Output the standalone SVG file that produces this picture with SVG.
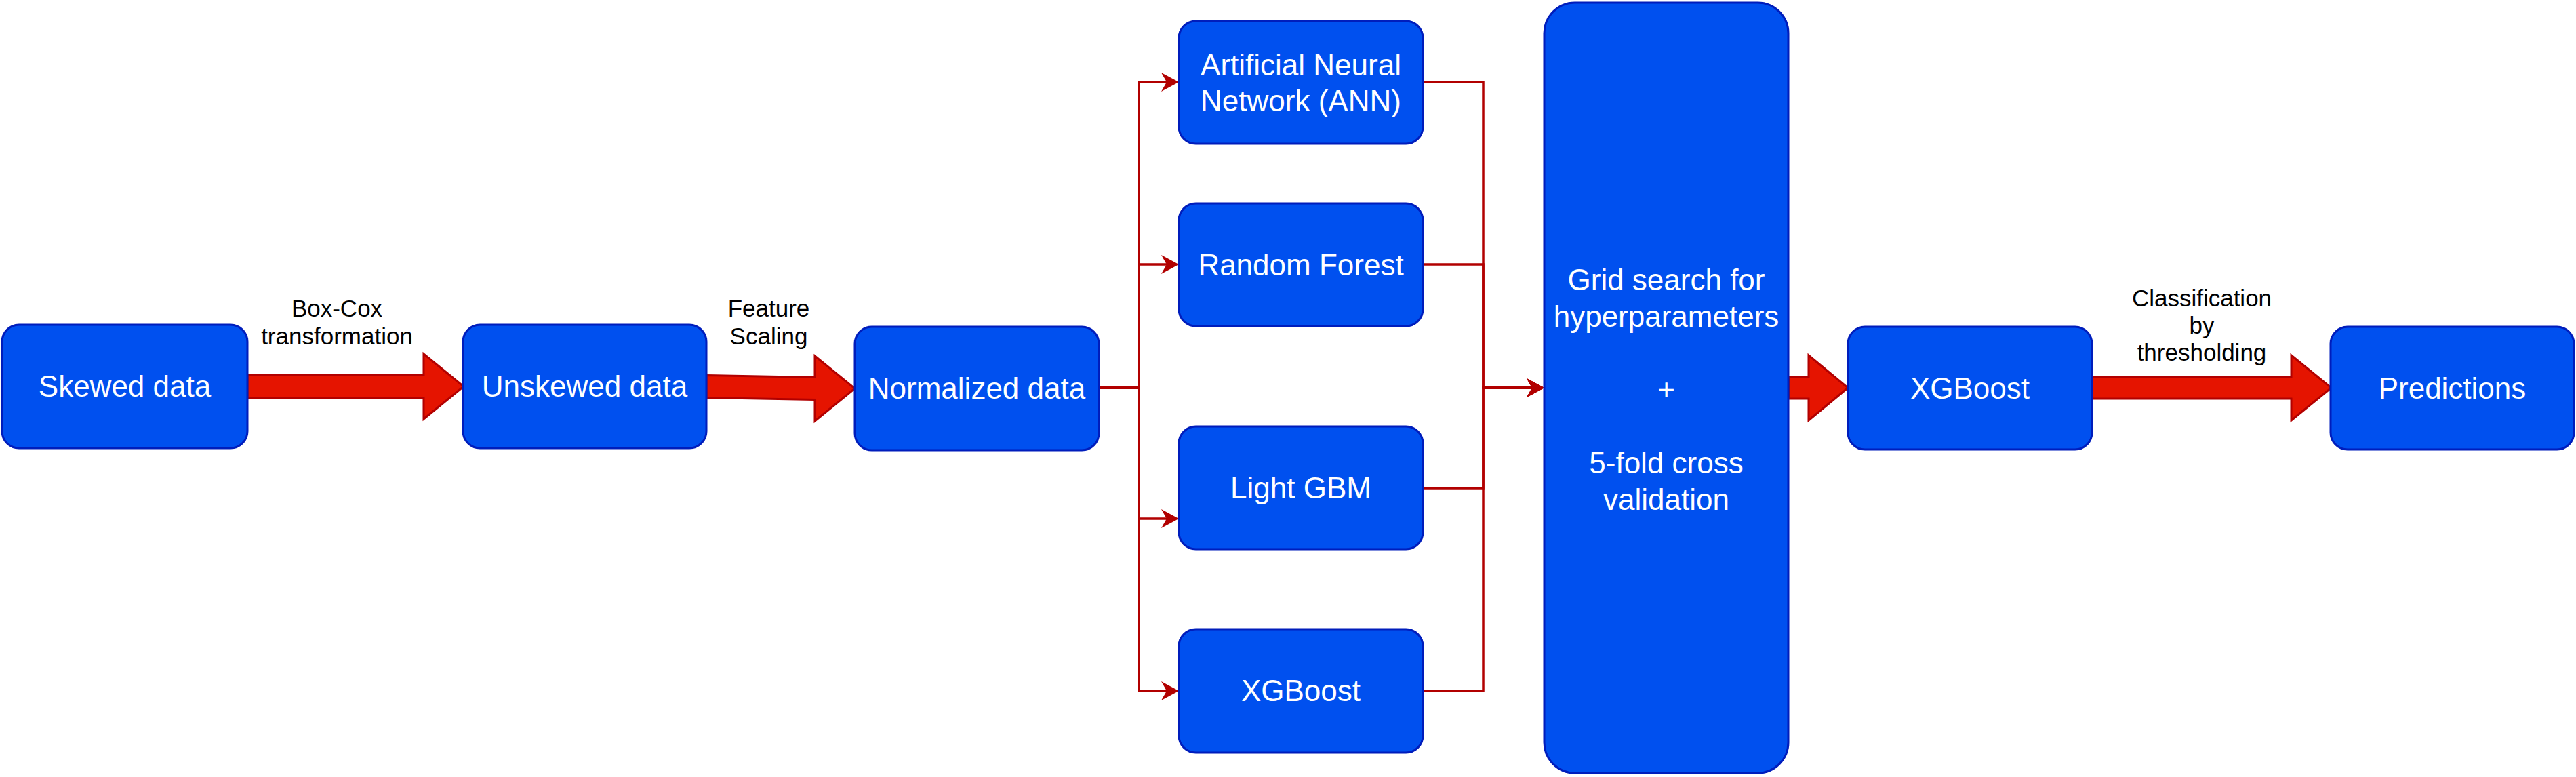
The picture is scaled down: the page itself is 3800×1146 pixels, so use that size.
<svg xmlns="http://www.w3.org/2000/svg" width="3800" height="1146" viewBox="0 0 3800 1146">
<style>
.node rect{fill:#0050EF;stroke:#001DBC;stroke-width:3}
.node text{fill:#FFFFFF;font-family:"Liberation Sans",Arial,Helvetica,sans-serif;font-size:44px;text-anchor:middle}
.lbl{fill:#000000;font-family:"Liberation Sans",Arial,Helvetica,sans-serif;font-size:35px;text-anchor:middle}
.big{fill:#E51400;stroke:#B20000;stroke-width:3;stroke-linejoin:miter}
.thin{fill:none;stroke:#B20000;stroke-width:3.5}
</style>
<defs>
<marker id="ah" viewBox="0 0 26 28" markerWidth="26" markerHeight="28" markerUnits="userSpaceOnUse" refX="9" refY="14" orient="auto">
<path d="M26,14 L0,0 L8,14 L0,28 Z" fill="#B20000"/>
</marker>
</defs>
<rect width="3800" height="1146" fill="#FFFFFF"/>

<g id="connectors">
<polygon class="big" points="365,553.5 625,553.5 625,522 684,570 625,618 625,586.5 365,586.5"/>
<polygon class="big" points="1042,553.5 1202,556.5 1202,525 1261,573 1202,621 1202,589.5 1042,586.5"/>
<polygon class="big" points="2639,556 2668,556 2668,524 2726,572 2668,620 2668,588 2639,588"/>
<polygon class="big" points="3086,556 3380,556 3380,524 3439,572 3380,620 3380,588 3086,588"/>
<path class="thin" d="M1621,572 H1680 V121 H1722" marker-end="url(#ah)"/>
<path class="thin" d="M1621,572 H1680 V390 H1722" marker-end="url(#ah)"/>
<path class="thin" d="M1621,572 H1680 V765 H1722" marker-end="url(#ah)"/>
<path class="thin" d="M1621,572 H1680 V1019 H1722" marker-end="url(#ah)"/>
<path class="thin" d="M2099,121 H2188 V572 H2261" marker-end="url(#ah)"/>
<path class="thin" d="M2099,390 H2188 V572 H2261" marker-end="url(#ah)"/>
<path class="thin" d="M2099,720 H2188 V572 H2261" marker-end="url(#ah)"/>
<path class="thin" d="M2099,1019 H2188 V572 H2261" marker-end="url(#ah)"/>
<text class="lbl" x="497" y="467">Box-Cox</text>
<text class="lbl" x="497" y="508">transformation</text>
<text class="lbl" x="1134" y="467">Feature</text>
<text class="lbl" x="1134" y="508">Scaling</text>
<text class="lbl" x="3248" y="452">Classification</text>
<text class="lbl" x="3248" y="492">by</text>
<text class="lbl" x="3248" y="532">thresholding</text>
</g>

<g id="skewed" class="node">
<rect x="3" y="479" width="362" height="182" rx="25"/>
<text x="184" y="585">Skewed data</text>
</g>
<g id="unskewed" class="node">
<rect x="683" y="479" width="359" height="182" rx="25"/>
<text x="862.5" y="585">Unskewed data</text>
</g>
<g id="normalized" class="node">
<rect x="1261" y="482" width="360" height="182" rx="25"/>
<text x="1441" y="588">Normalized data</text>
</g>
<g id="ann" class="node">
<rect x="1739" y="31" width="360" height="181" rx="25"/>
<text x="1919" y="111">Artificial Neural</text>
<text x="1919" y="164">Network (ANN)</text>
</g>
<g id="rf" class="node">
<rect x="1739" y="300" width="360" height="181" rx="25"/>
<text x="1919" y="406">Random Forest</text>
</g>
<g id="lgbm" class="node">
<rect x="1739" y="629" width="360" height="181" rx="25"/>
<text x="1919" y="735">Light GBM</text>
</g>
<g id="xgb1" class="node">
<rect x="1739" y="928" width="360" height="182" rx="25"/>
<text x="1919" y="1034">XGBoost</text>
</g>
<g id="grid" class="node">
<rect x="2278" y="4" width="360" height="1136" rx="45"/>
<text x="2458" y="428">Grid search for</text>
<text x="2458" y="482">hyperparameters</text>
<text x="2458" y="590">+</text>
<text x="2458" y="698">5-fold cross</text>
<text x="2458" y="752">validation</text>
</g>
<g id="xgb2" class="node">
<rect x="2726" y="482" width="360" height="181" rx="25"/>
<text x="2906" y="588">XGBoost</text>
</g>
<g id="pred" class="node">
<rect x="3438" y="482" width="359" height="181" rx="25"/>
<text x="3617.5" y="588">Predictions</text>
</g>
</svg>
